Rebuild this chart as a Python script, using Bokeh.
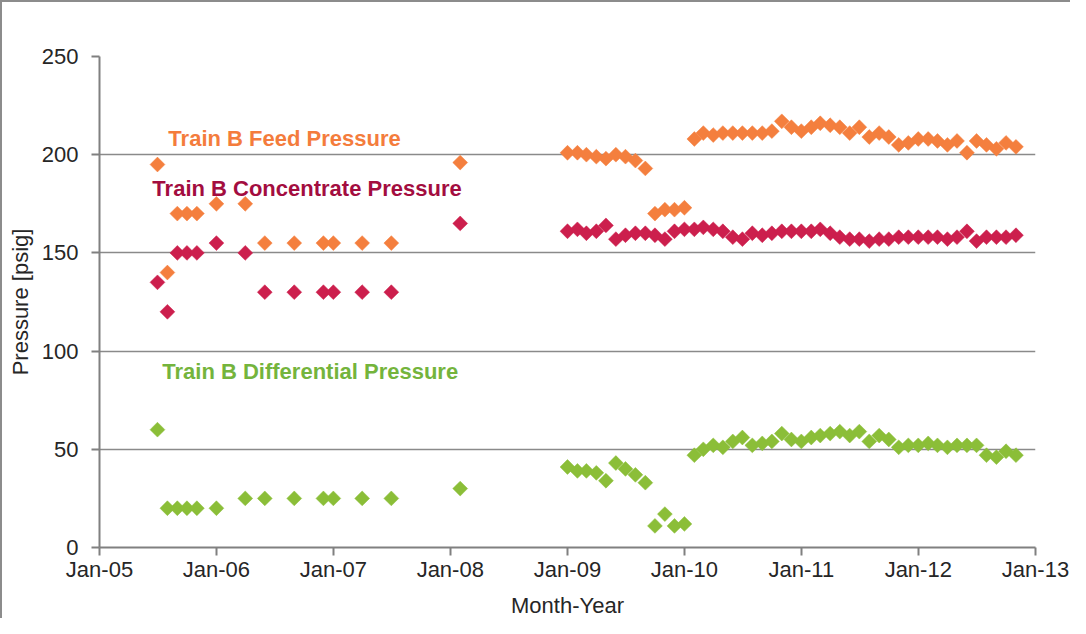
import numpy as np
import pandas as pd
from bokeh.plotting import figure
from bokeh.models import Range1d, FixedTicker, DatetimeTickFormatter, Label
from bokeh.embed import file_html
from bokeh.resources import INLINE

# ---------------- data ----------------
series_names = ["Train B Feed Pressure", "Train B Concentrate Pressure", "Train B Differential Pressure"]

early_months = ["2005-07-01", "2005-08-01", "2005-09-01", "2005-10-01", "2005-11-01",
                "2006-01-01", "2006-04-01", "2006-06-01", "2006-09-01", "2006-12-01",
                "2007-01-01", "2007-04-01", "2007-07-01", "2008-02-01"]
early_feed = [195, 140, 170, 170, 170, 175, 175, 155, 155, 155, 155, 155, 155, 196]
early_conc = [135, 120, 150, 150, 150, 155, 150, 130, 130, 130, 130, 130, 130, 165]
early_diff = [60, 20, 20, 20, 20, 20, 25, 25, 25, 25, 25, 25, 25, 30]

late_months = pd.date_range("2009-01-01", "2012-11-01", freq="MS")
late_feed = [201, 201, 200, 199, 198, 200, 199, 197, 193,
             170, 172, 172, 173,
             208, 211, 210, 211, 211, 211, 211, 211, 212, 217,
             214, 212, 214, 216, 215, 214, 211, 214,
             209, 211, 209, 205, 206, 208, 208, 207, 205, 207, 201, 207, 205, 203, 206, 204]
late_conc = [161, 162, 160, 161, 164, 157, 159, 160, 160, 159, 157,
             161, 162, 162, 163, 162, 161, 158, 157, 160, 159, 160, 161,
             161, 161, 161, 162, 160, 158, 157, 157, 156, 157, 157, 158,
             158, 158, 158, 158, 157, 158, 161, 156, 158, 158, 158, 159]
late_diff = [41, 39, 39, 38, 34, 43, 40, 37, 33, 11, 17, 11, 12,
             47, 50, 52, 51, 54, 56, 52, 53, 54, 58,
             55, 54, 56, 57, 58, 59, 57, 59, 54, 57, 55, 51,
             52, 52, 53, 52, 51, 52, 52, 52, 47, 46, 49, 47]

year_ticks = ["2005-01-01", "2006-01-01", "2007-01-01", "2008-01-01", "2009-01-01",
              "2010-01-01", "2011-01-01", "2012-01-01", "2013-01-01"]
y_ticks = [0, 50, 100, 150, 200, 250]
x_title = "Month-Year"
y_title = "Pressure [psig]"

# anchors (date, value) for the in-chart texts
label_dates = ["2005-08-04", "2005-06-15", "2005-07-16"]
label_values = [208.2, 182.6, 89.8]

# ---------------- build ----------------
dates = pd.to_datetime(early_months).append(late_months)
feed = early_feed + late_feed
conc = early_conc + late_conc
diff = early_diff + late_diff

FEED_C = "#F47F3E"
CONC_C = "#CC1F4D"
DIFF_C = "#8BBE38"
FEED_T = "#F47C3C"
CONC_T = "#A30D3F"
DIFF_T = "#74B43C"
FONT = "Liberation Sans"
TXT = "#262626"

p = figure(width=1070, height=618, x_axis_type="datetime",
           output_backend="svg", toolbar_location=None,
           x_range=Range1d(pd.Timestamp(year_ticks[0]).to_pydatetime(),
                           pd.Timestamp(year_ticks[-1]).to_pydatetime()),
           y_range=Range1d(0, 250),
           min_border_left=97, min_border_right=37, min_border_top=54, min_border_bottom=71,
           background_fill_color="white", border_fill_color="white")
p.outline_line_color = None

p.xaxis.ticker = FixedTicker(ticks=[pd.Timestamp(t).value / 1e6 for t in year_ticks])
fmt = "%b-%y"
p.xaxis.formatter = DatetimeTickFormatter(milliseconds=fmt, seconds=fmt, minsec=fmt, minutes=fmt,
                                          hourmin=fmt, hours=fmt, days=fmt, months=fmt, years=fmt)
p.yaxis.ticker = FixedTicker(ticks=y_ticks)

for ax in (p.xaxis[0], p.yaxis[0]):
    ax.axis_line_color = "#808080"
    ax.axis_line_width = 2
    ax.major_tick_line_color = "#808080"
    ax.major_tick_line_width = 2
    ax.major_tick_out = 8
    ax.major_tick_in = 0
    ax.minor_tick_out = 0
    ax.minor_tick_in = 0
    ax.major_label_text_font = FONT
    ax.major_label_text_font_size = "22px"
    ax.major_label_text_color = TXT
    ax.axis_label_text_font = FONT
    ax.axis_label_text_font_size = "22px"
    ax.axis_label_text_font_style = "normal"
    ax.axis_label_text_color = TXT

p.xaxis.axis_label = x_title
p.yaxis.axis_label = y_title
p.xaxis.major_label_standoff = 1
p.xaxis.axis_label_standoff = 8
p.yaxis.major_label_standoff = 13
p.yaxis.axis_label_standoff = 6

p.xgrid.visible = False
p.ygrid.grid_line_color = "#8a8a8a"
p.ygrid.grid_line_width = 1.6

for ys, col in ((feed, FEED_C), (conc, CONC_C), (diff, DIFF_C)):
    p.scatter(x=dates, y=ys, marker="square", angle=np.pi / 4, size=10.5,
              fill_color=col, line_color=col, line_width=0.5)

for name, d, v, col in zip(series_names, label_dates, label_values, (FEED_T, CONC_T, DIFF_T)):
    p.add_layout(Label(x=pd.Timestamp(d).to_pydatetime(), y=v, text=name,
                       text_font=FONT, text_font_size="22px", text_font_style="bold",
                       text_color=col, text_baseline="middle", text_align="left"))

p.styles = {"border-left": "2px solid #8c8c8c", "border-top": "2px solid #8c8c8c",
            "box-sizing": "border-box"}

open("out.html", "w").write(file_html(p, INLINE))
